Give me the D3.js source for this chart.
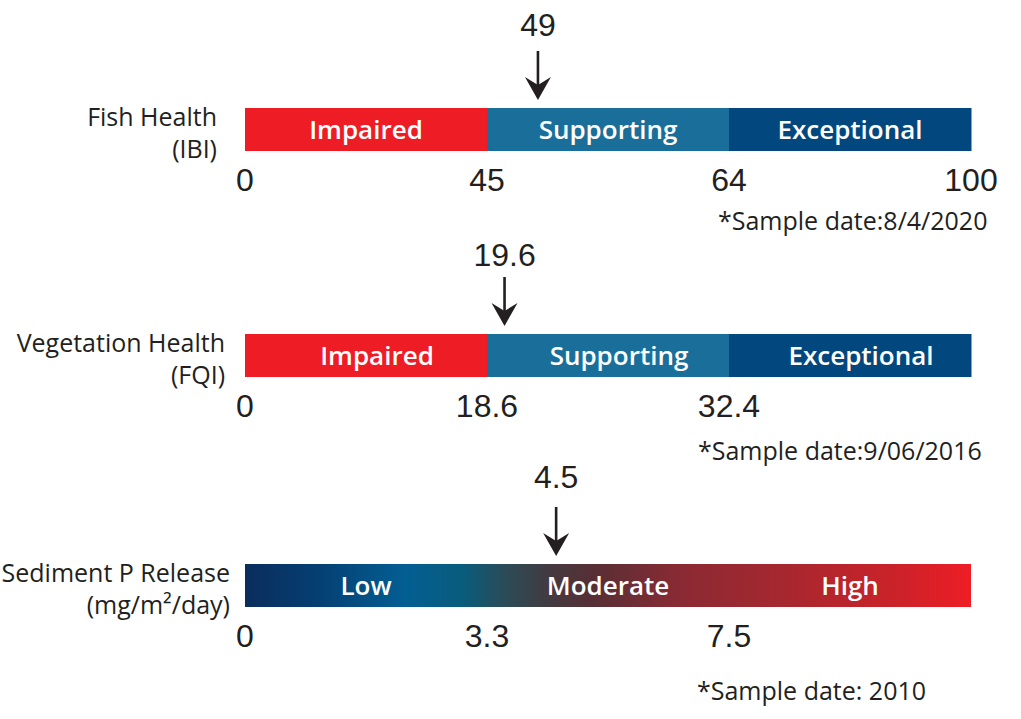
<!DOCTYPE html>
<html>
<head>
<meta charset="utf-8">
<script src="https://cdn.jsdelivr.net/npm/d3@7"></script>
<style>
  html, body { margin: 0; padding: 0; background: #fff; }
  svg { display: block; }
</style>
</head>
<body>
<div id="chart"></div>
<script>
// ---- data ----
const indicators = ["Fish Health", "Vegetation Health", "Sediment P Release"];
const indicatorUnits = ["(IBI)", "(FQI)", "(mg/m\u00B2/day)"];
const conditionClasses = ["Impaired", "Supporting", "Exceptional"];
const releaseClasses = ["Low", "Moderate", "High"];
const fishTicks = [0, 45, 64, 100];
const vegetationTicks = [0, 18.6, 32.4];
const sedimentTicks = [0, 3.3, 7.5];
const sampleValues = [49, 19.6, 4.5];
const sampleDates = ["*Sample date:8/4/2020", "*Sample date:9/06/2016", "*Sample date: 2010"];

// ---- layout / styling ----
const W = 1021, H = 719;
const barX0 = 245, barX1 = 971, barH = 43;
const rows = [
  { top: 108, labelRight: 217, classes: conditionClasses, ticks: fishTicks, classDx: 0,
    valueY: 36, dateX: 718, dateY: 230, gradient: false },
  { top: 334, labelRight: 225, classes: conditionClasses, ticks: vegetationTicks, classDx: 11,
    valueY: 266, dateX: 698, dateY: 460, gradient: false },
  { top: 564, labelRight: 230, classes: releaseClasses, ticks: sedimentTicks, classDx: 0,
    valueY: 488, dateX: 697, dateY: 700, gradient: true }
];
const classColor = d3.scaleOrdinal()
  .domain(conditionClasses)
  .range(["#ee1d25", "#1a6f9a", "#03477f"]);
const gradientStops = [
  [0.00, "#0a2d5c"], [0.10, "#053f72"], [0.22, "#035e92"], [0.30, "#085c7c"],
  [0.36, "#2c4b56"], [0.42, "#433a40"], [0.48, "#572f35"], [0.60, "#8a2a33"],
  [0.75, "#a8272f"], [0.90, "#cc2229"], [1.00, "#ee1d25"]
];
const labelFont = "'Open Sans', 'Noto Sans', sans-serif";
const numFont = "'Liberation Sans', Arial, sans-serif";
const textColor = "#231f20";

const svg = d3.select("#chart").append("svg")
  .attr("width", W).attr("height", H);

const defs = svg.append("defs");
const grad = defs.append("linearGradient").attr("id", "releaseGradient")
  .attr("x1", "0%").attr("x2", "100%").attr("y1", "0%").attr("y2", "0%");
grad.selectAll("stop").data(gradientStops).join("stop")
  .attr("offset", d => d[0]).attr("stop-color", d => d[1]);

rows.forEach((row, i) => {
  const g = svg.append("g");
  const band = d3.scaleBand().domain(row.classes).range([barX0, barX1]).padding(0);
  // piecewise scale: each class threshold lands on a band boundary
  const bounds = row.classes.map(c => band(c)).concat([barX1]);
  const x = d3.scaleLinear().domain(row.ticks).range(bounds.slice(0, row.ticks.length));

  // indicator name and unit
  const lbl = g.append("text")
    .attr("text-anchor", "end")
    .attr("font-family", labelFont).attr("font-size", 25)
    .attr("fill", textColor);
  lbl.append("tspan").attr("x", row.labelRight).attr("y", row.top + 18).text(indicators[i]);
  lbl.append("tspan").attr("x", row.labelRight).attr("y", row.top + 50).text(indicatorUnits[i]);

  // bar
  if (row.gradient) {
    g.append("rect")
      .attr("x", barX0).attr("y", row.top)
      .attr("width", barX1 - barX0).attr("height", barH)
      .attr("fill", "url(#releaseGradient)");
  } else {
    g.selectAll("rect.seg").data(row.classes).join("rect")
      .attr("class", "seg")
      .attr("x", d => band(d)).attr("y", row.top)
      .attr("width", band.bandwidth() + 0.5).attr("height", barH)
      .attr("fill", d => classColor(d));
  }
  g.selectAll("text.cls").data(row.classes).join("text")
    .attr("class", "cls")
    .attr("x", d => band(d) + band.bandwidth() / 2 + row.classDx)
    .attr("y", row.top + 31)
    .attr("text-anchor", "middle")
    .attr("font-family", labelFont).attr("font-size", 26).attr("font-weight", 600)
    .attr("fill", "#fff")
    .text(d => d);

  // threshold tick labels
  g.selectAll("text.tick").data(row.ticks).join("text")
    .attr("class", "tick")
    .attr("x", d => x(d))
    .attr("y", row.top + barH + 40)
    .attr("text-anchor", "middle")
    .attr("font-family", numFont).attr("font-size", 32)
    .attr("fill", textColor)
    .text(d => d);

  // sample value marker
  const v = sampleValues[i];
  const ax = x(v);
  const tipY = row.top - 8;
  g.append("text")
    .attr("x", ax).attr("y", row.valueY)
    .attr("text-anchor", "middle")
    .attr("font-family", numFont).attr("font-size", 32)
    .attr("fill", textColor)
    .text(v);
  g.append("line")
    .attr("x1", ax).attr("x2", ax)
    .attr("y1", row.top - 57).attr("y2", tipY - 12)
    .attr("stroke", textColor).attr("stroke-width", 2.6);
  g.append("path")
    .attr("d", `M${ax},${tipY} L${ax - 13},${tipY - 23} L${ax},${tipY - 15} L${ax + 13},${tipY - 23} Z`)
    .attr("fill", textColor);

  // sample date note
  g.append("text")
    .attr("x", row.dateX).attr("y", row.dateY)
    .attr("font-family", labelFont).attr("font-size", 25)
    .attr("fill", textColor)
    .text(sampleDates[i]);
});
</script>
</body>
</html>
